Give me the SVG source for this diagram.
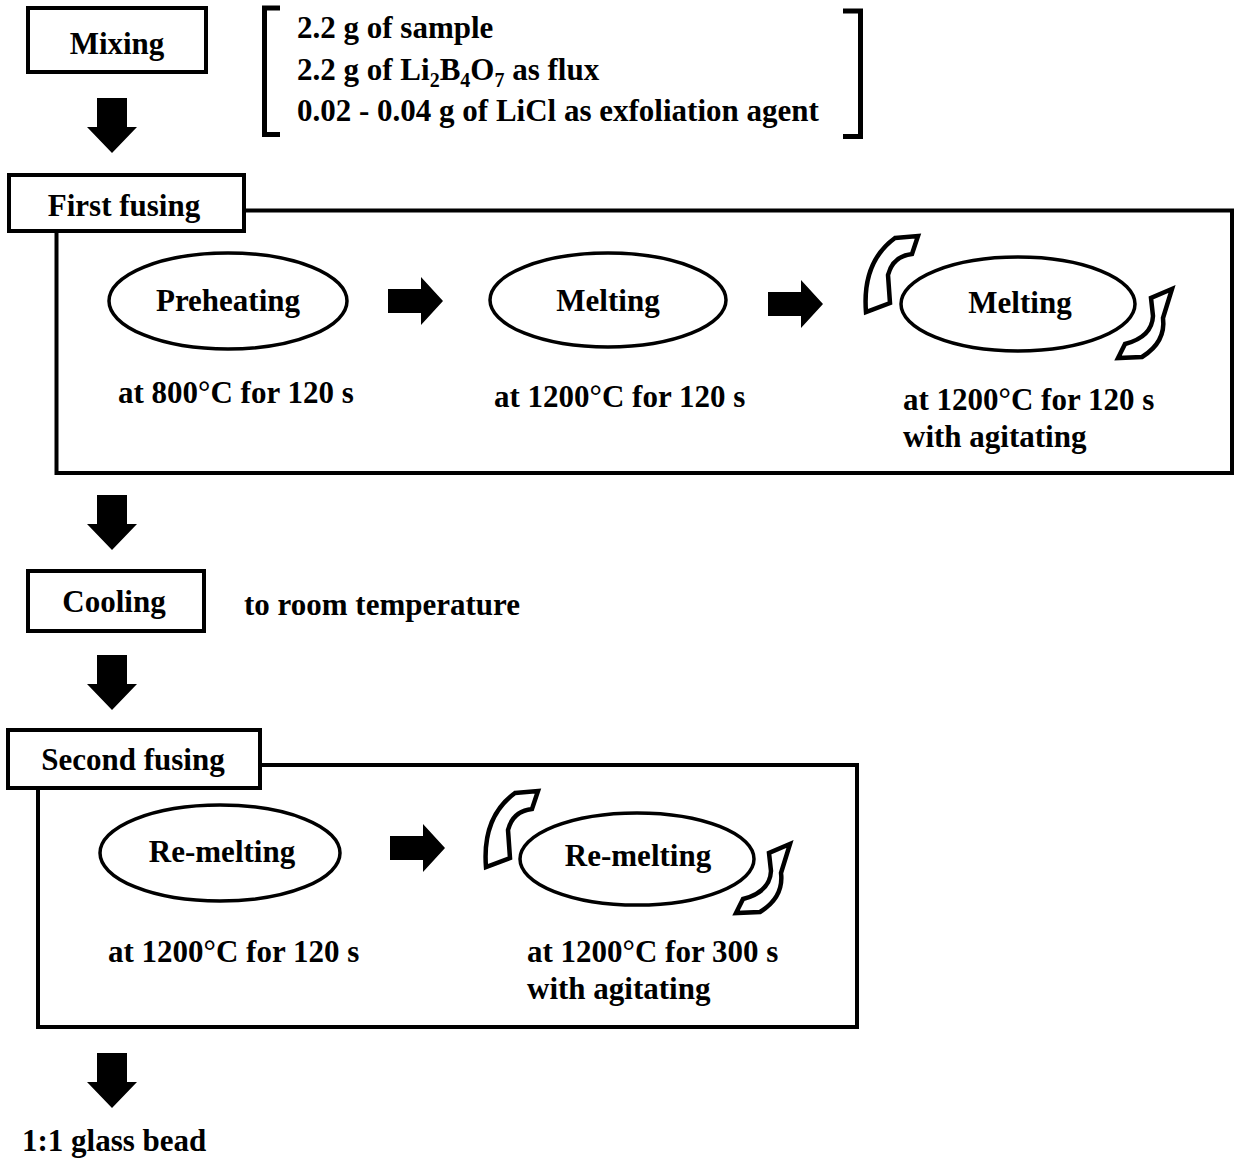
<svg xmlns="http://www.w3.org/2000/svg" width="1235" height="1160" viewBox="0 0 1235 1160">
<style>
text{font-family:"Liberation Serif","Times New Roman",serif;font-weight:bold;font-size:31px;fill:#000}
.c{text-anchor:middle}
.box{fill:#fff;stroke:#000;stroke-width:4}
.frame{fill:none;stroke:#000;stroke-width:4}
.ell{fill:#fff;stroke:#000;stroke-width:3.5}
.blk{fill:#000}
.curl{fill:#fff;stroke:#000;stroke-width:4.5;stroke-linejoin:miter}
.br{fill:none;stroke:#000;stroke-width:5}
</style>
<defs>
<path id="down" d="M-15,0 H15 V29 H25 L0,55 L-25,29 H-15 Z"/>
<path id="right" d="M0,-12 H33 V-24 L55,0 L33,24 V12 H0 Z"/>
<path id="curlL" d="M895,238 L918,236 L912,254 Q893,256 888,275 L890,303 L866,312 Q862,262 895,238 Z"/>
<path id="curlR" d="M1125,344 L1118,358 L1142,357 Q1166,342 1163,318 L1172,289 L1151,298 L1153,316 Q1152,337 1125,344 Z"/>
</defs>

<g id="mixing">
<rect class="box" x="28" y="8" width="178" height="64"/>
<text class="c" x="117" y="54">Mixing</text>
</g>

<g id="ingredients">
<path class="br" d="M280,8 H264.5 V134.5 H280"/>
<path class="br" d="M843,11 H860.5 V136.5 H843"/>
<text x="297" y="38">2.2 g of sample</text>
<text x="297" y="80">2.2 g of Li<tspan font-size="20" dy="7">2</tspan><tspan dy="-7">B</tspan><tspan font-size="20" dy="7">4</tspan><tspan dy="-7">O</tspan><tspan font-size="20" dy="7">7</tspan><tspan dy="-7"> as flux</tspan></text>
<text x="297" y="121">0.02 - 0.04 g of LiCl as exfoliation agent</text>
</g>

<g id="first-fusing">
<path class="frame" d="M245,210.5 H1232 V473 H56.5 V232"/>
<rect class="box" x="9" y="175" width="235" height="56"/>
<text class="c" x="124" y="216">First fusing</text>
</g>

<g id="preheating">
<ellipse class="ell" cx="228" cy="301" rx="119" ry="48"/>
<text class="c" x="228" y="311">Preheating</text>
<text x="118" y="403">at 800°C for 120 s</text>
</g>

<g id="melting1">
<ellipse class="ell" cx="608" cy="300" rx="118" ry="47"/>
<text class="c" x="608" y="311">Melting</text>
<text x="494" y="407">at 1200°C for 120 s</text>
</g>

<g id="melting2">
<ellipse class="ell" cx="1018" cy="304" rx="117" ry="47"/>
<text class="c" x="1020" y="313">Melting</text>
<use href="#curlL" class="curl"/>
<use href="#curlR" class="curl"/>
<text x="903" y="410">at 1200°C for 120 s</text>
<text x="903" y="447">with agitating</text>
</g>

<g id="cooling">
<rect class="box" x="28" y="571" width="176" height="60"/>
<text class="c" x="114" y="612">Cooling</text>
<text x="244" y="615">to room temperature</text>
</g>

<g id="second-fusing">
<path class="frame" d="M260,765 H857 V1027 H38 V789"/>
<rect class="box" x="8" y="730" width="252" height="58"/>
<text class="c" x="133" y="770">Second fusing</text>
</g>

<g id="remelting1">
<ellipse class="ell" cx="220" cy="853" rx="120" ry="48"/>
<text class="c" x="222" y="862">Re-melting</text>
<text x="108" y="962">at 1200°C for 120 s</text>
</g>

<g id="remelting2">
<ellipse class="ell" cx="637" cy="859" rx="117" ry="46"/>
<text class="c" x="638" y="866">Re-melting</text>
<use href="#curlL" class="curl" transform="translate(-380,555)"/>
<use href="#curlR" class="curl" transform="translate(-382,555)"/>
<text x="527" y="962">at 1200°C for 300 s</text>
<text x="527" y="999">with agitating</text>
</g>

<g id="result">
<text x="22" y="1151">1:1 glass bead</text>
</g>

<g id="connectors">
<use href="#down" class="blk" transform="translate(112,98)"/>
<use href="#down" class="blk" transform="translate(112,495)"/>
<use href="#down" class="blk" transform="translate(112,655)"/>
<use href="#down" class="blk" transform="translate(112,1053)"/>
<use href="#right" class="blk" transform="translate(388,301)"/>
<use href="#right" class="blk" transform="translate(768,304)"/>
<use href="#right" class="blk" transform="translate(390,848)"/>
</g>
</svg>
